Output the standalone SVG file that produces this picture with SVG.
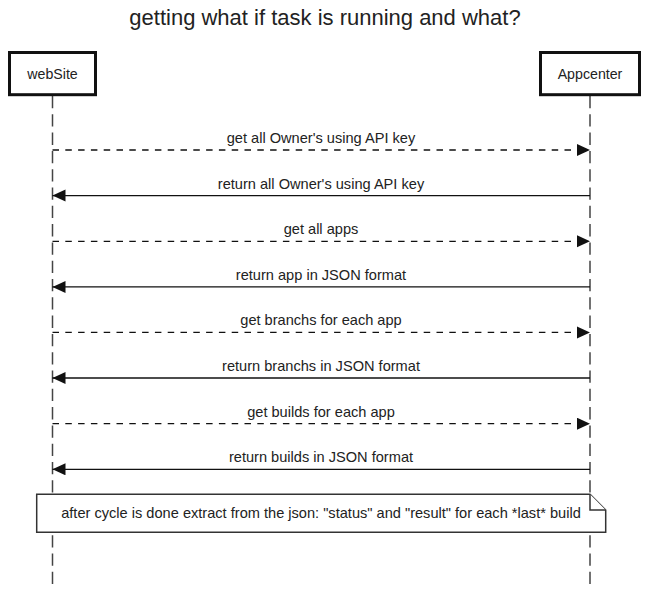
<svg xmlns="http://www.w3.org/2000/svg" width="649" height="589" viewBox="0 0 649 589">
<style>
text { font-family: "Liberation Sans", Arial, sans-serif; fill: #222; }
.title { font-size: 22px; text-anchor: middle; }
.lbl { font-size: 14.6px; text-anchor: middle; }
.name { font-size: 14.2px; text-anchor: middle; }
.actor { fill: #fff; stroke: #111; stroke-width: 3; }
.life { stroke: #444; stroke-width: 1.5; stroke-dasharray: 12.3 6; fill: none; }
.msg { stroke: #111; stroke-width: 1.3; fill: none; marker-end: url(#ah); }
.dash { stroke-dasharray: 6.5 6.3; }
.note { fill: #fff; stroke: #333; stroke-width: 1.5; }
</style>
<defs>
<marker id="ah" markerWidth="14" markerHeight="13" refX="13" refY="6" orient="auto" markerUnits="userSpaceOnUse">
<path d="M0,0 L13,6 L0,12 Z" fill="#111"/>
</marker>
</defs>
<rect width="649" height="589" fill="#fff"/>
<text class="title" x="325" y="25">getting what if task is running and what?</text>
<g id="lifelines">
<line class="life" x1="52.5" y1="96" x2="52.5" y2="589"/>
<line class="life" x1="590" y1="96" x2="590" y2="589"/>
</g>
<g id="webSite">
<rect class="actor" x="9.5" y="52.5" width="86" height="42.2"/>
<text class="name" x="52.5" y="79">webSite</text>
</g>
<g id="Appcenter">
<rect class="actor" x="540.5" y="52.5" width="99" height="42.2"/>
<text class="name" x="590" y="79">Appcenter</text>
</g>
<g id="connectors">
<line class="msg dash" x1="52.5" y1="150" x2="590" y2="150"/>
<text class="lbl" x="321" y="143">get all Owner's using API key</text>
<line class="msg" x1="590" y1="195.6" x2="52.5" y2="195.6"/>
<text class="lbl" x="321" y="188.6">return all Owner's using API key</text>
<line class="msg dash" x1="52.5" y1="241.3" x2="590" y2="241.3"/>
<text class="lbl" x="321" y="234.3">get all apps</text>
<line class="msg" x1="590" y1="286.9" x2="52.5" y2="286.9"/>
<text class="lbl" x="321" y="279.9">return app in JSON format</text>
<line class="msg dash" x1="52.5" y1="332.4" x2="590" y2="332.4"/>
<text class="lbl" x="321" y="325.4">get branchs for each app</text>
<line class="msg" x1="590" y1="378" x2="52.5" y2="378"/>
<text class="lbl" x="321" y="371">return branchs in JSON format</text>
<line class="msg dash" x1="52.5" y1="423.7" x2="590" y2="423.7"/>
<text class="lbl" x="321" y="416.7">get builds for each app</text>
<line class="msg" x1="590" y1="469.3" x2="52.5" y2="469.3"/>
<text class="lbl" x="321" y="462.3">return builds in JSON format</text>
</g>
<g id="note">
<path class="note" d="M36.7,494.3 H590 L605.7,510 V532.3 H36.7 Z"/>
<path class="note" fill="none" d="M590,494.3 V510 H605.7"/>
<text class="lbl" x="321" y="517.5">after cycle is done extract from the json: "status" and "result" for each *last* build</text>
</g>
</svg>
